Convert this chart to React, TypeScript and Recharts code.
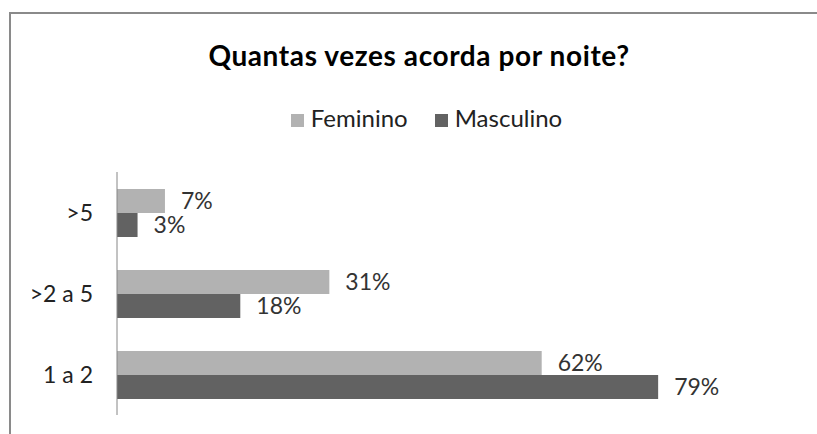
import { Bar, BarChart, LabelList, Legend, XAxis, YAxis } from 'recharts'

const categories = ['>5', '>2 a 5', '1 a 2']
const feminino = [7, 31, 62]
const masculino = [3, 18, 79]

const data = categories.map((name, i) => ({ name, feminino: feminino[i], masculino: masculino[i] }))

const FONT = 'Lato, "Open Sans", sans-serif'

const App = () => {
    return (
        <div style={{ position: 'absolute', left: 0, top: 0, width: 817, height: 434, overflow: 'hidden', background: '#fff', fontFamily: FONT }}>
            {/* chart frame, cut off at the right and bottom like the screenshot */}
            <div style={{ position: 'absolute', left: 9, top: 12, width: 900, height: 500, borderTop: '2px solid #8a8a8a', borderLeft: '2px solid #8a8a8a' }} />
            <div style={{ position: 'absolute', left: 0, top: 39, width: 838, textAlign: 'center', fontSize: 28, fontWeight: 700, letterSpacing: 0.6, color: '#000', lineHeight: 1.2 }}>
                Quantas vezes acorda por noite?
            </div>
            <BarChart
                width={817}
                height={434}
                data={data}
                layout="vertical"
                margin={{ top: 172, right: 15, bottom: 19, left: 0 }}
                barCategoryGap={17}
                barGap={0}
                style={{ position: 'absolute', left: 0, top: 0 }}
            >
                <XAxis type="number" domain={[0, 100]} hide />
                <YAxis
                    type="category"
                    dataKey="name"
                    width={117}
                    tickLine={false}
                    tickMargin={18}
                    axisLine={{ stroke: '#868686' }}
                    tick={{ fill: '#222', fontSize: 23, fontFamily: FONT }}
                />
                <Legend
                    verticalAlign="middle"
                    align="center"
                    iconType="square"
                    iconSize={13}
                    wrapperStyle={{ top: 103, left: 0, width: 880, fontSize: 24, fontFamily: FONT }}
                    formatter={(value) => <span style={{ color: '#222', marginLeft: 3, marginRight: 17 }}>{value}</span>}
                />
                <Bar dataKey="feminino" name="Feminino" fill="#b2b2b2" isAnimationActive={false}>
                    <LabelList dataKey="feminino" position="right" offset={16} formatter={(v: any) => `${v}%`} fill="#333" fontSize={23} fontFamily={FONT} />
                </Bar>
                <Bar dataKey="masculino" name="Masculino" fill="#626262" isAnimationActive={false}>
                    <LabelList dataKey="masculino" position="right" offset={16} formatter={(v: any) => `${v}%`} fill="#333" fontSize={23} fontFamily={FONT} />
                </Bar>
            </BarChart>
        </div>
    )
}

export default App
